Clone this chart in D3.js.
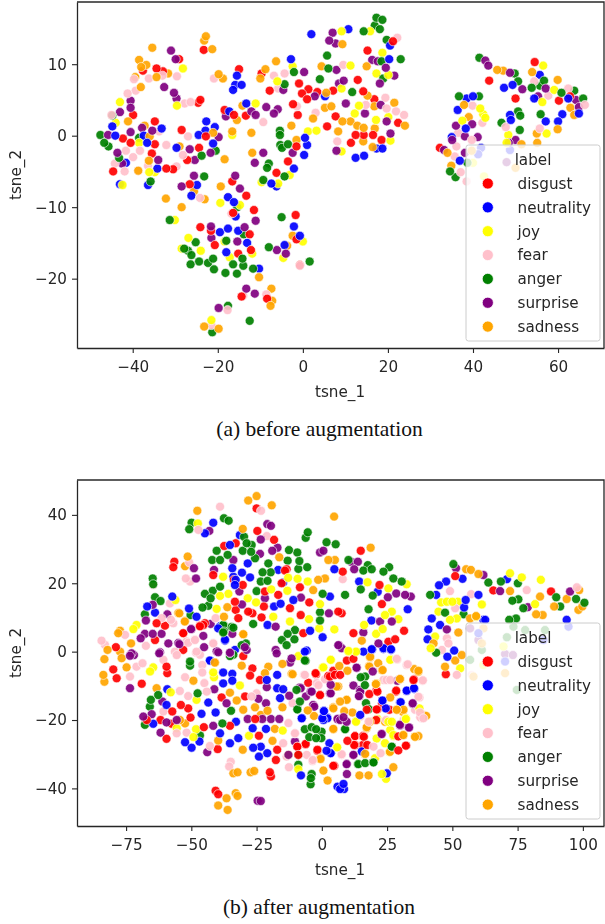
<!DOCTYPE html>
<html>
<head>
<meta charset="utf-8">
<script src="https://cdn.jsdelivr.net/npm/d3@7"></script>
<style>
  html, body { margin: 0; padding: 0; background: #fff; }
  svg { display: block; }
</style>
</head>
<body>
<div id="chart"></div>
<script>
const labels = ["disgust", "neutrality", "joy", "fear", "anger", "surprise", "sadness"];
const colours = ["red", "blue", "yellow", "pink", "green", "purple", "orange"];

const xTicksA = [-40, -20, 0, 20, 40, 60];
const yTicksA = [-20, -10, 0, 10];
const xTicksB = [-75, -50, -25, 0, 25, 50, 75, 100];
const yTicksB = [-40, -20, 0, 20, 40];

// (a) before augmentation
const disgustA = [[-23.3,12],[-15,9.3],[-34.4,9.4],[-37.6,9.1],[-32.9,9],[-29.1,10.7],[-24.6,4.6],[-24.1,5],[-7.8,6.3],[-9.7,8.7],[-0.9,7.3],[1.3,6.5],[-0.2,5.9],[1,5.1],[3.4,6.1],[7.1,6.3],[-2.3,4.4],[-1.2,2.9],[7.7,2.7],[5.7,1.3],[-18.4,3.6],[-16.2,2.9],[-13.4,2.8],[-39.9,2.9],[-34.8,2],[-28.5,0.8],[-42.3,-0.4],[-40.5,-1],[-34.8,-1.2],[-35.5,-2.5],[-22.8,-0.1],[-24.4,-1.7],[-27.2,-3.4],[-3.5,-3.6],[-6.2,-5.2],[-32.1,-4.6],[-30.5,-4.7],[-44.6,-5],[-1.5,-1.5],[-16.6,-6.4],[-26.6,-6.8],[-13.3,-8.4],[-11.5,-10.4],[-16.4,-10.8],[-1.7,-11.1],[-24.1,-12.8],[-21.6,-13.3],[-12.5,-13.8],[-1.5,-14.5],[-20.7,-15.3],[-15.2,-16.5],[-12.2,-16],[-0.7,-18.1],[-14.4,-22.5],[-8.4,-22.8],[15.2,11.9],[12.9,7.8],[14.2,6.2],[16.8,5.1],[22.4,1.8],[12.4,0.1],[14.3,0.1],[16.5,0.1],[18.5,-0.6],[11.3,-1],[21.2,13.2],[54.5,10.3],[43.8,7.7],[50,5.2],[60.2,4.9],[62.8,5.5],[32.2,-1.7]];
const neutralityA = [[2,14.2],[-2.8,10.7],[-15.5,8.4],[-15.9,7.1],[-14.4,7.1],[-16.4,6.4],[-13.3,4.5],[-17.3,3.4],[-22.7,2],[-22.9,0.7],[-24.5,0.1],[-20.7,1.2],[-21.1,-1.1],[-29.7,-1.7],[-44.8,1.3],[-44.1,0],[-33.2,1],[-37.4,0],[-36.6,-1],[-41.6,-3.8],[-34.2,-4.6],[-2.1,-4.6],[0.3,-2.7],[1,-1.3],[0.5,-0.3],[5.2,5.5],[-24.9,-6.9],[-36.4,-6.9],[-43,-6.8],[-7.4,-6.7],[-6.2,-7.1],[-17.6,-8.6],[-16.2,-9.3],[-15.8,-11.3],[-19.5,-13.5],[-17.6,-13],[-15.2,-13.3],[-13.1,-15],[-18,-16.3],[-2.1,-12.7],[-0.7,-14],[-10.3,-18.6],[-4.3,-15.3],[-26.2,-8.4],[10.7,14.9],[20.5,12.6],[20.3,10.7],[12.4,-3.1],[14.4,-2.8],[17.3,-1.8],[18.7,-1.8],[40,5.5],[38.5,5.2],[36.4,3.6],[38.3,1],[55.7,8.5],[47.3,6.7],[49.3,7.1],[54.4,5.2],[62.4,5.2],[57.1,2],[48.7,2.9],[48.9,2.2],[61,3],[60,2],[64.9,3.1],[35,-0.2],[36.9,-3.5],[41.9,-1.7],[41.2,-2.6],[48.7,-2]];
const joyA = [[-28.2,9.4],[-43,4.7],[-29.6,4.2],[-11.1,4.5],[-6,7.6],[-2.4,9.7],[1.2,0.6],[3.2,0.7],[-44,1.8],[-38.5,-1],[-36.1,-5.1],[-34.8,-5.1],[-16.6,0.1],[-42.4,-6.9],[-5.8,-6.7],[-3.1,-5.5],[-9.7,-6.5],[-19.4,-9.4],[-14.8,-9.7],[-30.1,-11.8],[-26.9,-14.3],[-24,-16.1],[-28.5,-15.8],[-18.4,-14.8],[-17.2,-17],[-11.9,-16.5],[-4.6,-17.1],[0,-14.8],[-21.5,-25.8],[9.1,14.6],[15.8,14.6],[18.7,11.6],[11.2,9.8],[17.3,8.7],[20.1,8.5],[9.1,6.6],[12.2,3.1],[13.2,4.2],[20.1,2.6],[17.2,2.2],[20.6,-0.7],[9.1,-2.2],[37.5,2.1],[41.7,3.8],[42.4,3],[42.9,2.5],[56.5,9.8],[56.3,4.7],[59.1,6.4],[57.3,0.3],[48.3,0.1],[47.9,-1],[42.6,-5.7],[40,-3.8]];
const fearA = [[-36.2,8],[-39.7,7.9],[-39.3,6.3],[-41.2,5.9],[-33,8.4],[-29.6,8.3],[-27.8,4.5],[-26.4,4.7],[-20.9,8],[-6.8,8.4],[-4.3,8.7],[-5.8,6.6],[-1.4,4.1],[3,3.2],[-9.3,1.9],[-45,2.9],[-33.8,0.6],[-27,-0.1],[-32.1,-1.3],[-41.6,-2.1],[-38.3,-2.1],[-39.9,-3],[-44.2,-3.9],[-28.2,-2.7],[-29.7,-4.3],[-38.7,-4.9],[8.1,-0.8],[-36.4,-4.2],[-41.9,-5],[-24.2,-8.7],[-16.8,-10.9],[-0.7,-18.2],[-14,-22.4],[-8.6,-22.2],[-17.7,-24.4],[-21.5,-26.5],[22.2,13.7],[9.5,9.9],[19.4,5.3],[14.8,4.3],[19.7,3.8],[21.9,3.4],[23.8,2.9],[39.9,4.2],[42.2,1.8],[47.7,1.2],[55.7,1],[62.4,6.6],[66.3,4.3],[57.7,5.6],[36.1,-1.5],[35.7,-2.9],[37.1,-5.1],[38.5,-6.4],[36.5,0.4],[54.4,7.6],[39.7,-0.6]];
const angerA = [[-47.6,0.1],[-46.7,-1],[-45.7,-1.5],[-44.8,2.8],[-43.2,-3.1],[-38.5,-0.3],[-23.8,-2.8],[-20.5,-2.1],[-5.4,0.7],[-5.4,0.1],[-5.3,-1.3],[-4.9,-1.7],[-3.5,-1.2],[-2.1,8.9],[-4.3,7.2],[4,7.9],[5.7,11.2],[6,9.4],[-8,-3.9],[-8.4,-4.5],[-23.2,-5.7],[-35.8,-6.4],[-9.3,-6.2],[-4.3,-5.7],[-15.4,-10],[-31.3,-11.8],[-5,-11.4],[-25.2,-14.9],[-27.9,-15.8],[-27,-16.1],[-26.2,-16.7],[-26.4,-18],[-24.4,-17.6],[-22.3,-17.8],[-21.1,-17.2],[-20.9,-18.7],[-18.2,-19.2],[-16.4,-18],[-15.5,-19.3],[-14.2,-17.2],[-14,-18.2],[-11.7,-18.6],[-18,-14.7],[-13.9,-13.8],[-8,-15.6],[1.6,-17.6],[-17.6,-23.8],[-12.5,-25.9],[-21.3,-27.5],[17.3,16.5],[18.7,16.2],[16.9,15.4],[18.1,14.9],[14.3,14.6],[19.7,13.4],[23,10.7],[18.5,10.4],[18.9,8],[11.6,6.1],[41.5,10.9],[36.7,5.5],[41.4,5.5],[49.8,8.7],[50.6,7.6],[53.8,6.7],[55.7,7],[56.7,7.7],[60.8,6],[63.8,6.3],[65.9,5.2],[50.6,3.4],[51.1,2.8],[55.9,3],[46.7,1.8],[51,0.8],[34.6,-5],[35.9,-5.8],[38.7,-3.8]];
const surpriseA = [[-31,11.9],[-29.9,10.7],[-32.6,6.8],[-30.3,6],[-29.7,5.2],[-40.5,4.9],[-40.5,3.9],[-43,3.3],[-45.8,0.1],[-40.5,0.5],[-37.8,1.1],[-35.4,0.7],[-43.6,-2.4],[-42.5,-3.9],[-34,-3.4],[-26.6,-1.9],[-25.4,-3.4],[-21.7,-2.4],[-19.8,-0.2],[-25.6,-5.6],[-15.9,-5.6],[-18.1,2.7],[-12.1,3.4],[-11.1,2.9],[-8.6,4],[-6.8,3.1],[-5.9,3.7],[-4.6,6.4],[0.3,8.9],[2.8,5.5],[7,14.4],[6.2,13.3],[7.7,12.9],[7.9,9.2],[8.5,7.3],[-11.3,-3.8],[-9.3,-2.4],[-2.4,-2.4],[7.9,-2.1],[-28.5,-7.1],[-14.8,-7.4],[-11.1,-11.9],[-21.6,-12.7],[-13.7,-12.8],[-21.5,-14.3],[-15.4,-14.8],[-6.1,-16],[-4,-16.5],[-13.3,-21.4],[-11.3,-22.1],[-19.8,-24.1],[16.3,10.6],[17.6,10.4],[19.5,9.5],[21.5,8.4],[18.1,7.3],[9.6,7.7],[10.1,4.5],[18.3,4.3],[14.6,3.1],[19.7,2],[20.6,0.3],[42.9,10.5],[43.6,9.8],[48.7,8.8],[51.6,6.5],[57.1,6.6],[55.3,5.5],[64.2,5],[64.9,4],[36,1.4],[39.8,1.6],[35.1,-0.6],[38.1,-0.1],[41.1,-0.2],[33.2,-2],[38.1,-2.4],[48.4,-1],[50,-0.6],[47.9,-3.7]];
const sadnessA = [[-22.8,13.9],[-23.2,13.3],[-21.3,12.1],[-35.4,12.3],[-38.5,10.6],[-36.8,9.9],[-38,9.6],[-39.4,8.2],[-38.1,6.8],[-34.4,8.2],[-31.7,8.7],[-19.8,8.6],[-18.8,8],[-10,8],[-8.8,9.3],[-6.3,10.4],[4.4,9.7],[5.5,6],[5.2,3.9],[6.7,4.1],[2.4,2.4],[-2.7,1.4],[-1.5,-0.6],[8.3,0.6],[-12.1,0.4],[-16.6,0.6],[-14.2,4.2],[-15.5,2.2],[-21.1,0.4],[-29,-1.5],[-41.1,2],[-37.2,1.4],[-36,-0.1],[-36.2,-3.5],[-18.4,-3.3],[-11.9,-2.4],[-38.7,-4.9],[-25.6,-7.8],[-19.3,-7.1],[-32.2,-8.8],[-23.1,-8.9],[-28.5,-10],[-2.4,-14],[-3.7,-15.4],[-10.3,-19.8],[-7.4,-21.4],[-7.2,-23.1],[-7.6,-23.8],[-23.2,-26.7],[-19.8,-27],[9.3,12.8],[15,9.7],[15.2,5.6],[21.5,4.6],[16.8,4.1],[9.3,2],[11.2,2],[12.8,1.4],[14.3,1.1],[16.9,1],[24,1.4],[14.2,-0.8],[16.4,-1.6],[45.7,9.2],[47.1,9.1],[53.9,8.9],[59.9,7.8],[62.9,3.9],[63.8,2.9],[37.9,4.3],[39,2.6],[59.9,0.9],[55,0.3],[55.1,-1],[51.4,-1.2],[34,-2.4],[34.9,-4.2],[39.7,-2.1],[50,-4.5]];

// (b) after augmentation
const disgustB = [[-25,41.9],[-56.5,26.3],[-56.9,24.7],[-33,31.7],[-24.7,35.3],[-18.3,32.7],[-37.4,30.9],[-41.6,22.4],[-63.3,8.3],[-60.1,7.6],[-53.1,5.4],[-63.9,3.4],[-78.9,1.3],[-53.1,0.5],[-46.7,7.6],[-44.8,8.3],[-33.3,14.6],[-33,12.2],[-32,9.8],[-28.2,11.7],[-26.6,11.2],[-23.1,10],[-22.2,13.2],[-21.8,17.6],[-16.7,16.6],[-12.2,12.7],[-8.1,10.7],[-8.4,18.8],[-4.8,14.4],[-13.5,24.1],[6.3,11.7],[-15.4,20],[-7.1,5.4],[-33.7,21],[-30.3,19.5],[-79.9,-5.2],[-78.6,-7.8],[-69,-9.4],[-59.5,-4.4],[-59.2,-6.3],[-30.1,-1.3],[-26.6,-4.9],[-27.5,-7],[-23.7,-8.3],[-29.4,-13.1],[-38.4,-13.4],[-54,-15.6],[-51.2,-16.6],[-50.3,-19.3],[-57.3,-17.5],[-61.8,-20],[-67.1,-20],[-57.5,-21.1],[-59.5,-25.5],[-45.2,-22.1],[-39.9,-28.5],[-35.2,-21.7],[-25.5,-19.7],[-24.1,-24.6],[-17.1,-28.7],[-17.6,-31.7],[-9.4,-27.8],[-9,-30.2],[-6.2,-27.1],[-1.7,-28.7],[-0.7,-12.7],[-2.4,-6.3],[2.5,-7.1],[5,-6.8],[4.8,-33.4],[-19.9,-35.3],[-19.5,-36.5],[-40.7,-40.7],[-39.7,-41.7],[14.9,29.5],[8,23.4],[51.1,22.1],[87.8,17.6],[65.7,17.9],[22.1,19.5],[23,13.9],[7.6,11.2],[12.1,5.4],[31.5,6.1],[28.1,3.6],[25.5,2.9],[12.1,-2.1],[35.1,-8.3],[21,-11.2],[28.5,-11.4],[21,-16.9],[23,-15.3],[47.5,-6.6],[12.7,-24.7],[15.7,-24.7],[12.4,-27.3],[15.7,-27.3],[32.3,-27.5],[29.3,-28.9],[20.8,-20],[29.3,-24.8],[9.6,-2.6],[25.9,-17],[17.2,-17],[-2.2,-6.6],[4.4,-5.6],[3.1,-7.3],[-5.2,-9.1],[-0.7,-12.7],[7,-6.8],[18.2,-12.4],[21.3,-11.7],[28.4,-11.7],[35.3,-8.1],[21.3,-16.9],[12.7,-24.7],[16.1,-24.9],[9.8,-26.1],[12.7,-27.3],[17.4,-27.3],[32.2,-27.5],[-6.2,-27],[-9.4,-27.8],[-1.7,-29],[4.4,-33.4],[-14.1,23.7],[-53.1,5.4],[-45.4,7.8],[-46.7,7.4]];
const neutralityB = [[-41.6,37.7],[-44.8,34.6],[-35.2,31.2],[-31.4,34.1],[-28.4,25.8],[-34.3,24.4],[-30.6,23.1],[-27.5,21.7],[-33.9,21.9],[-33,21],[-33.3,19.5],[-16.7,23.9],[-57.3,16.1],[-66.9,13.2],[-63.9,11.4],[-50.9,12.6],[-48,10.2],[-37.1,3.2],[-39.7,6.8],[-20.8,7.8],[-18.3,13.2],[-15.8,14],[-14.8,20.2],[-10.9,15.1],[-4.5,6.1],[0.3,4.2],[4.8,24.1],[3.1,16.1],[-5.8,0.3],[-37.8,-6.1],[-34.3,-6.5],[-37.8,-9.3],[-34.3,-8.5],[-42.9,-2.7],[-43.5,-14.9],[-40.7,-17.8],[-46.1,-18.2],[-59.5,-15.6],[-59.2,-11],[-64.6,-21.1],[-52.4,-26.5],[-49.9,-28.1],[-46.9,-26.3],[-39,-23.9],[-35.2,-26.8],[-32,-25.3],[-26.3,-28.1],[-23.4,-27.8],[-24.1,-30.7],[-20.9,-29.7],[-21.4,-22.6],[-26.5,-22.4],[-32.9,-20.5],[-17.1,-10.7],[-21.1,-8.3],[-16,-13.6],[-14.8,-11],[-17.1,-6.8],[-7.7,-19.5],[0.8,-17.3],[2.1,-19.3],[0.6,-20],[-8,-36.2],[6,-39.5],[7,-40.2],[1.8,-29],[3.4,-29.7],[-6.5,0],[14.3,20.5],[21.4,17.5],[32.9,12.4],[53.9,21.3],[47.6,20.5],[44.9,19.4],[43.8,16.6],[60,16.6],[55.1,15.1],[54.5,12.9],[42.1,9.7],[40.8,6.5],[40.5,3.6],[45.3,7.8],[61.9,9.3],[50.7,0.3],[48.1,-1.5],[19,9.1],[15.9,0],[19.1,0.7],[23.6,1],[26.5,0.7],[35.4,-10.9],[32.5,-11.4],[23.2,-14.3],[30,-14.8],[24.5,-16.6],[14.7,-18.5],[15.3,-29.2],[8.3,-38.7],[8.5,-40.2],[24.9,-35.6],[93.8,9.3],[94.5,7.3],[70.2,-2.9],[84.9,3.4],[70.9,21.2],[60,5.4],[62.6,9.3],[23.6,0.8],[26.5,0.5],[19.3,0.7],[23.3,-14.3],[30.2,-14.8],[32.5,-11.5],[35.3,-10.7],[0.8,-17.4],[2.1,-19.5],[0.2,-19.5],[-7.7,-19.5],[2.9,-26.8],[3.4,-29.7],[24.4,-16.6],[-39,7.4],[-37.1,3.5],[-33.3,0.5],[-42.9,-2.6]];
const joyB = [[-37.8,21.9],[-35.8,16.9],[-39,16.3],[-56.1,15.1],[-40.3,12.5],[-28.4,15.6],[-25.2,14.4],[-19.4,18.2],[-18.6,10.2],[-13.2,17.8],[-12.9,21.6],[-9.3,21.3],[-12.2,8.8],[-5.4,20.5],[-4.9,9.5],[-0.7,13.9],[-1,6.8],[4.8,6.5],[-72.2,6.6],[-71,7.8],[-47.5,37.5],[-65.8,-5.8],[-64.6,-4.6],[-57.9,-11.9],[-48,-14.1],[-41.3,-7.5],[-41.6,-6.1],[-31.4,-9.9],[-48.2,-22.7],[-49.2,-25],[-55.6,-22.4],[-27.9,-24.6],[-15,-23.1],[-9,-1.3],[0.6,-4.6],[3.5,-2.4],[5.7,-28],[-12.8,-30.2],[-9,-34.4],[25.5,18.5],[17.5,20.3],[32.5,19.7],[72.1,22.9],[76.6,21.7],[83.9,21],[81.7,13.9],[45.7,14.4],[47.9,14.6],[50,14.6],[52.1,14.6],[61.3,13.8],[49.1,9.3],[51.7,9.7],[59.1,10.2],[44.7,11.7],[43.4,4.4],[41.7,1],[53,-4.9],[26.8,11.7],[24.2,10.7],[29.3,9.5],[16.2,7.8],[23.3,6.6],[20.8,5.2],[10.2,0],[13,0],[26.2,-2.4],[61.9,-3.9],[69.6,1.5],[21,-9.3],[13.1,-20.5],[21,-20],[25.5,-20.5],[32.2,-19.7],[26.2,-22.9],[24.2,-26.8],[27.4,-24.7],[25.9,-29.4],[23,-35.8],[24.6,-37.2],[20.4,-31.2],[3.4,-2.4],[0.3,-4.7],[13.1,0],[10.2,0.2],[26.4,-2.3],[13.1,-20.3],[21.3,-19.7],[32.2,-19.5],[5.9,-28],[21,-25.4],[27.4,-24.4],[26.8,-20.5],[37.4,-16.6]];
const fearB = [[-39,42.4],[-23.3,41.2],[-21.1,33.8],[-50.8,26.1],[-52.1,21.4],[-50.5,20.5],[-57.8,9.3],[-61.4,9.8],[-56.9,8.3],[-40.7,9.8],[-84.4,3.2],[-83.1,2],[-75.4,4.9],[-67.4,1.7],[-51.2,2.6],[-48.6,3.4],[-41.6,2.4],[-56.3,0],[-48,0],[-58.2,14.1],[-47.3,35.6],[-64.6,19.5],[-71,-4.4],[-68.7,-3.4],[-73.5,-7.3],[-60.7,-2.4],[-55.6,-1],[-48.2,-0.3],[-45.8,-3.9],[-45.8,-6.1],[-52.4,-7.5],[-45,-9.2],[-54.4,-11.5],[-51.2,-13],[-44.1,-11.7],[-34.9,-32.2],[-35.5,-33.6],[-42.9,-27.6],[-51.8,-23.7],[-55.6,-23.9],[-26.9,-13.1],[-12.8,-20.9],[-10.3,-23.9],[-14.8,-26.8],[-13.5,-30.7],[-12.6,-33.8],[-5.8,-30.2],[-3.6,-32],[-6.5,-6.8],[-2,-9.2],[-25,-12.2],[-60.7,-17.5],[8,21.2],[49.1,17.7],[57.2,16.8],[78.5,18],[97.7,18.8],[51.1,12.7],[47.9,3.9],[48.5,2.4],[46,0.5],[51.7,-6.8],[57.4,-6.8],[28.7,-2.1],[32.9,-3.7],[38.7,-8.4],[37,-13.2],[26.2,-8.3],[35.7,-17],[37.7,-19.2],[38.9,-19.5],[23.6,-8.3],[17.9,-20.5],[14.7,-19],[7.6,-30.2],[19.8,-27.8],[31.3,-20],[24.6,-20],[-6.8,-6.8],[1.2,-8.1],[-1.3,-9.8],[28.9,-2.3],[32.5,-3.9],[24.8,-8.3],[38.6,-8.5],[37.4,-13.4],[37.6,-17.8],[38.2,-19.5],[7.6,-30],[-3.5,-31.7],[-10.3,-23.9],[22.5,-29.7],[-11.2,-15.1],[-51.8,3],[-48.6,3.5],[-41.6,2.5],[-55.6,-0.9],[-46.7,-0.9]];
const angerB = [[-49.9,37.7],[-50.8,35.8],[-37.5,39],[-35.7,38.3],[-5.4,34.9],[-6.2,33.3],[1.8,32],[5.3,31.4],[-64.8,21.4],[-64.6,19.7],[-63.9,15.9],[-61.8,14.8],[-40.3,29.5],[-42,26.8],[-39,26.8],[-36.1,28.3],[-29.8,33.6],[-28.8,31.7],[-26.9,31.2],[-30.3,29.5],[-27.1,29.2],[-25.6,27.3],[-20.5,25.8],[-22.7,23.2],[-19.6,23.2],[-23.4,20.5],[-20.8,20.7],[-25,17.7],[-12.6,29.7],[-9.4,29],[-13.1,26.6],[-8.6,26.5],[-9,24.2],[-5.6,24.7],[-39,19],[-41.8,17.8],[-44.8,16.9],[-42.6,15.6],[-43.5,13.4],[-45.7,12.9],[-67.8,10.9],[-50.3,10.7],[-26.3,8.1],[-37.5,7.6],[-33.9,7],[-37.5,5.9],[-10.3,6.3],[-13.1,5.2],[-15.3,3.4],[-10.5,3.6],[-13.5,1.9],[-0.7,11.5],[-0.7,9.1],[0.3,16.9],[-29.1,2.4],[-30.7,1.9],[-50.5,-2.9],[-50.5,-4.1],[-65.5,-14.1],[-65.9,-16.1],[-62.7,-12.7],[-47.6,-12.2],[-67.8,-21.4],[-34.8,-17.3],[-38.1,-21],[-46.7,-24.5],[-9.7,-11.2],[-8.4,-14.6],[-9.3,-16.9],[-6.2,-2.7],[-6.5,-22.7],[-3.9,-22.1],[-2.2,-22.7],[-0.1,-23.4],[-4.8,-25],[-2.2,-25.3],[-0.2,-25.3],[-9,-30.2],[-9,-33.1],[-3.9,-35.8],[-4.2,-37],[-4.3,-38.8],[-35.2,-1.3],[10.2,26.8],[17.6,25.3],[25.8,24.7],[23.6,23.4],[15.9,23.7],[19.1,24.1],[27.4,21.4],[30.6,20.5],[14.9,18.2],[8.9,16.6],[19.5,16.4],[17.9,12.4],[50.4,25.6],[63.8,20.2],[68.6,20.5],[75.1,20],[73,14.9],[75.3,15.3],[77.2,12.7],[89.8,15.9],[91.3,13.2],[97.4,15.4],[100.6,14.3],[41.5,16.6],[47.2,11.4],[54.3,10.9],[43.8,-0.3],[71.8,9.3],[74.4,9.7],[73.4,7.3],[70.9,4.2],[85.5,6.3],[61.3,0.5],[56.8,-2.4],[77.9,6.3],[74.7,-11.2],[17.9,-16.9],[8.9,-22.7],[26.8,-27.8],[13.8,-32.9],[16.6,-32.6],[19.8,-32.4],[16.6,-7.3],[14.9,-7.5],[16.5,-9.8],[16.9,-15.1],[17.9,-16.8],[8.9,-22.6],[-9.4,-16.9],[-6.5,-2.6],[14,-32.9],[19.7,-32.4],[26.8,-27.8],[-34.6,7.2],[-37.8,7.8],[-37.8,5.6],[-33.9,-0.9]];
const surpriseB = [[-20.9,37.3],[-19.5,36.8],[-43.1,35.3],[-23.4,32.8],[-23.7,28.6],[-17,30.4],[-19,29.5],[-0.7,29],[0.6,29.5],[-33.9,26.8],[-41.3,23.9],[-49,24.4],[-48.2,21.4],[-31.6,17.6],[-30.6,13.8],[-21.8,15.6],[-8,15.8],[-64.8,13.7],[-67.4,9.1],[-59.2,10.9],[-50.1,6.6],[-42.6,8.1],[-45.4,4.6],[-45.1,1.3],[-34.3,5.2],[-28.8,0.5],[-61.4,5.2],[-64.8,5.2],[-69.4,3.9],[-67.8,5.2],[-58.8,2.4],[-54.6,2.2],[-39.7,-0.2],[-17.7,7.3],[-17.7,0.5],[2.7,11.2],[6.3,1.9],[-62,-0.2],[-72.9,-0.5],[-73.5,-1.2],[-72,-1],[-73.5,-10.7],[-62.3,-0.5],[-41.2,-11],[-36.5,-15.1],[-61.1,-14.6],[-65.2,-18.3],[-68.4,-19],[-61.8,-23.7],[-59.5,-20.7],[-55.6,-20],[-41.6,-21.7],[-43.9,-29.4],[-35.2,-0.3],[-28.4,-19.7],[-22.8,-19.7],[-19.5,-19.7],[-16.3,-19.7],[-24.3,-13.8],[-21.4,-15.1],[-21.1,-10.4],[-12.5,-12.9],[-8.4,-10.5],[-6.1,-13.1],[-3.9,-11.7],[-2.9,-16.1],[3.4,-9.7],[3.1,-12.2],[6,-19.7],[-12.8,-30.2],[-10.3,-26.3],[-24.6,-43.6],[-23.4,-43.7],[-12.2,-3.2],[-17.3,-0.5],[11.2,26.3],[13.8,26.3],[12.4,24.1],[51.4,24.4],[61.9,22.4],[68.3,17.7],[78.9,13],[95.1,17.6],[25.3,15.9],[28.5,17],[31.9,16.6],[34.1,16.1],[22.3,8.8],[26.8,8.8],[15.9,5.6],[21.7,2.4],[47.9,6.5],[7.6,1],[13.4,-4.7],[19.5,-5.8],[12.1,-9.9],[14.7,-11.7],[14.4,-13],[34.8,-15.3],[30,-21.6],[33.4,-22.2],[23,-24.1],[12.1,-30.2],[9.6,-32.9],[9.6,-35.8],[70.2,-0.7],[73.2,-1],[56.8,6.8],[60,3.4],[7,-20],[8.3,-19.2],[6.6,1.9],[-8.1,-10.7],[-4.3,-11.7],[3.4,-12.2],[13.3,-4.7],[-3.3,-15.6],[14.6,-11.2],[14.2,-13],[6.3,-19.7],[9.5,-20.5],[29.9,-21.4],[33.4,-22.2],[22.9,-24.1],[12.1,-30.2],[9.5,-32.9],[34.8,-15.1],[28.9,-8.5],[-11.6,-2],[-55,2.5],[-40.3,0.1],[-35.2,-0.4],[-29.5,1.3],[-49.9,6.6]];
const sadnessB = [[-47.7,41.2],[-28.2,44.2],[-25,45.5],[-19.2,42.8],[4.7,39.5],[-30.3,35.9],[-51.4,27.8],[-52.4,25],[-16.3,27.6],[-37.5,10.2],[-36.2,13],[-30.1,5.1],[-52.4,9],[-54.6,11.2],[-78,5.4],[-77.3,6.1],[-73.1,2.4],[-82.1,0.5],[1.2,21.4],[-1.4,21],[2.5,26.8],[5,26.8],[-3.3,18],[-77.3,0],[-83.3,-2.2],[-83.7,-6.8],[-83.3,-8.8],[-76.7,-1.9],[-74.8,-4.6],[-63.3,-10.7],[-49.2,-8.5],[-40.9,-3.2],[-30.7,-4.1],[-35.2,-12],[-32.6,-14.3],[-30.1,-17],[-25.6,-16.3],[-20.5,-4.4],[-21.8,-6.3],[-15.1,-3.6],[-11.6,-6.5],[-20.8,-17.3],[-23.4,-18.5],[-15.1,-16.3],[-5.4,-17.2],[4.4,-16.3],[5.7,-10.2],[4.4,-22.6],[-18,-22.6],[-18.9,-26.1],[-30.3,-28.7],[-39.7,-26],[-54.4,-20],[-52.4,-21],[-0.5,-31.2],[0.6,-34.8],[2.2,-37.7],[-33.9,-35.6],[-32.3,-35.3],[-27.3,-35.3],[-25.9,-34.9],[-36.5,-42.9],[-33,-41.4],[-32.3,-42.2],[-39.7,-45],[-36.1,-46.3],[18.7,30.4],[55.3,24.1],[57.1,23.9],[60,22.7],[72.1,17.7],[83.6,16.1],[98.6,18],[93.8,15.4],[89,13.2],[98.3,12.2],[99.8,13.2],[82.1,10.9],[84.6,10.7],[56.8,9.7],[59.1,10.4],[52.3,5.6],[42.8,2.4],[51.1,-2.6],[53.6,-1],[47.2,-4.4],[15.3,3.2],[18.5,-1.5],[18.2,-4.4],[23,-5.4],[35.4,-5.1],[37,-5.6],[30,-8],[20.8,-9.4],[9.6,-14.1],[26.2,-13.4],[31.3,-17],[38.9,-18.5],[40,-18.8],[28.7,-17],[17.2,-22.1],[35.7,-24.9],[37,-24.7],[31.3,-24.4],[16.6,-29.9],[27.4,-33.8],[14.4,-36.2],[17.9,-36.2],[61.9,6.8],[61.3,2.4],[58.1,-7.3],[70.2,-6.3],[6.7,-4.2],[9.8,-5.6],[18.5,-1.7],[18.1,-4.2],[21.6,-3.4],[23.3,-5.4],[20.7,-9.5],[6.3,-10.2],[9.5,-14.1],[7,-14.6],[4.4,-16.6],[8.6,-17.4],[11.7,-17.8],[-3,-18.8],[4.4,-22.7],[17.2,-22.4],[18.4,-20.5],[28.7,-17],[31,-17.6],[31.2,-24.4],[35.7,-24.9],[29.9,-8],[37,-5.9],[16.5,-30],[-0.5,-31.4],[-11.2,-6.6],[24.2,-20.5],[26.1,-29.3],[-52.5,8.8],[-55,11.3],[-41,-3.2],[-30.1,5.1]];

const W = 605, H = 924;
const svg = d3.select("#chart").append("svg").attr("width", W).attr("height", H);
const ink = "#262626";

// the reference is a soft raster, a very small blur keeps the same feel
svg.append("defs").append("filter").attr("id", "soft")
  .attr("x", "-2%").attr("y", "-2%").attr("width", "104%").attr("height", "104%")
  .append("feGaussianBlur").attr("stdDeviation", 0.35);

// points of all labels, mixed so no colour sits on top of all others
function mixed(series) {
  const rows = series.flatMap((pts, s) =>
    pts.map((p, i) => ({ x: p[0], y: p[1], s: s, rank: (i * 37 + s * 11) % 101 }))
  );
  return rows.sort((a, b) => a.rank - b.rank);
}

function panel(o) {
  const x = d3.scaleLinear().domain(o.xDomain).range([77, 604]);
  const y = d3.scaleLinear().domain(o.yDomain).range([o.bottom, o.top]);
  const g = svg.append("g").attr("filter", "url(#soft)");

  g.append("g").selectAll("circle")
    .data(mixed(o.series))
    .join("circle")
    .attr("cx", (d) => x(d.x))
    .attr("cy", (d) => y(d.y))
    .attr("r", 4.5)
    .attr("fill", (d) => colours[d.s])
    .attr("fill-opacity", 0.92)
    .attr("stroke", "#fff")
    .attr("stroke-opacity", 0.75)
    .attr("stroke-width", 0.8);

  const fmt = (d) => String(d).replace("-", "\u2212");
  const xAxis = g.append("g")
    .attr("transform", `translate(0,${o.bottom})`)
    .call(d3.axisBottom(x).tickValues(o.xTicks).tickFormat(fmt).tickSizeInner(5).tickSizeOuter(0).tickPadding(8));
  const yAxis = g.append("g")
    .attr("transform", "translate(77,0)")
    .call(d3.axisLeft(y).tickValues(o.yTicks).tickFormat(fmt).tickSizeInner(5).tickSizeOuter(0).tickPadding(5));
  [xAxis, yAxis].forEach((a) => {
    a.selectAll("text").attr("font-family", "DejaVu Sans").attr("font-size", 15.2).attr("fill", ink);
    a.selectAll("line").attr("stroke", ink).attr("stroke-width", 1.1);
    a.select(".domain").attr("stroke", ink).attr("stroke-width", 1.3);
  });

  // top and right spines
  g.append("path")
    .attr("d", `M77,${o.top}H604V${o.bottom}`)
    .attr("fill", "none")
    .attr("stroke", ink)
    .attr("stroke-width", 1.3);

  g.append("text")
    .attr("x", 340).attr("y", o.bottom + 49)
    .attr("text-anchor", "middle")
    .attr("font-family", "DejaVu Sans").attr("font-size", 15.2).attr("fill", ink)
    .text("tsne_1");
  g.append("text")
    .attr("transform", `translate(21,${(o.top + o.bottom) / 2}) rotate(-90)`)
    .attr("text-anchor", "middle")
    .attr("font-family", "DejaVu Sans").attr("font-size", 15.2).attr("fill", ink)
    .text("tsne_2");

  // legend, half see-through over the points
  const lg = g.append("g").attr("transform", `translate(466,${o.legendTop})`);
  lg.append("rect")
    .attr("width", 134).attr("height", 196).attr("rx", 2.5)
    .attr("fill", "#fff").attr("fill-opacity", 0.8)
    .attr("stroke", "#ccc").attr("stroke-width", 1);
  lg.append("text")
    .attr("x", 67).attr("y", 19.5)
    .attr("text-anchor", "middle")
    .attr("font-family", "DejaVu Sans").attr("font-size", 15.2).attr("fill", ink)
    .text("label");
  const item = lg.selectAll("g.item").data(labels).join("g")
    .attr("class", "item")
    .attr("transform", (d, i) => `translate(0,${38.5 + i * 23.85})`);
  item.append("circle")
    .attr("cx", 21.8).attr("r", 5.6)
    .attr("fill", (d, i) => colours[i])
    .attr("stroke", "#fff").attr("stroke-width", 0.8);
  item.append("text")
    .attr("x", 51.5).attr("y", 5.4)
    .attr("font-family", "DejaVu Sans").attr("font-size", 15.2).attr("fill", ink)
    .text((d) => d);

  svg.append("text")
    .attr("x", o.captionX).attr("y", o.captionY)
    .attr("text-anchor", "middle")
    .attr("font-family", "Liberation Serif").attr("font-size", 21.5).attr("fill", "#111")
    .text(o.caption);
}

panel({
  series: [disgustA, neutralityA, joyA, fearA, angerA, surpriseA, sadnessA],
  xDomain: [-53.1, 70.8], yDomain: [-29.7, 18.7],
  top: 2, bottom: 348, legendTop: 145,
  xTicks: xTicksA, yTicks: yTicksA,
  caption: "(a) before augmentation", captionX: 319.5, captionY: 436
});
panel({
  series: [disgustB, neutralityB, joyB, fearB, angerB, surpriseB, sadnessB],
  xDomain: [-93.8, 108.1], yDomain: [-51, 50.2],
  top: 480, bottom: 826, legendTop: 623,
  xTicks: xTicksB, yTicks: yTicksB,
  caption: "(b) after augmentation", captionX: 319, captionY: 914
});
</script>
</body>
</html>
